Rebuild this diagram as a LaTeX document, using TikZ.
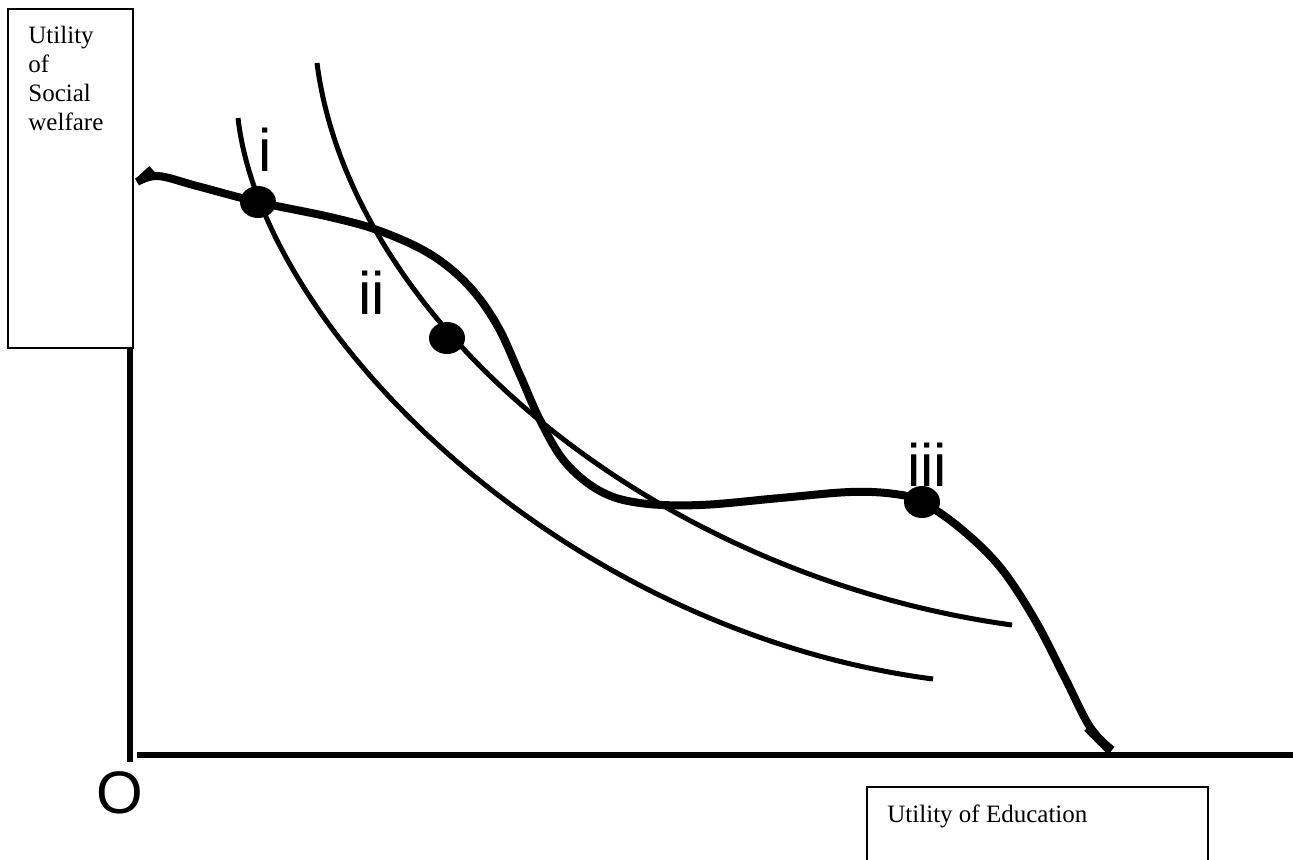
\documentclass[tikz,border=0pt]{standalone}
\usepackage{fontspec}
\setmainfont{Liberation Serif}
\newfontfamily\labelfont{Liberation Sans}
\usetikzlibrary{shapes.geometric}

\begin{document}
\begin{tikzpicture}[x=0.5pt,y=-0.5pt,
  axis/.style={line width=3.3pt},
  frontier/.style={line width=4pt,line join=round},
  indiff/.style={line width=2.5pt},
  point/.style={ellipse,fill=black,inner sep=0pt,minimum width=18pt,minimum height=16pt},
  ptlabel/.style={font=\labelfont\fontsize{30}{36}\selectfont,inner sep=0pt},
  boxtext/.style={font=\fontsize{12.5}{14.5}\selectfont,inner sep=0pt,align=left}]
\useasboundingbox (0,0) rectangle (1293,859);

\draw[line width=0.75pt] (8,9) rectangle (133,348);
\node[boxtext,anchor=north west] (ylabel) at (28,26) {Utility\\of\\Social\\welfare};
\draw[line width=0.75pt] (867,787) rectangle (1208,880);
\node[boxtext,anchor=base west] (xlabel) at (887,822) {Utility of Education};

\coordinate (ytop) at (130,348);
\coordinate (ybot) at (130,762);
\coordinate (xleft) at (137,755);
\coordinate (xright) at (1293,755);
\draw[axis] (ytop) -- (ybot);
\draw[axis] (xleft) -- (xright);
\node[ptlabel] (origin) at (120,793) {O};

\coordinate (ic1a) at (238,118);
\coordinate (ic1b) at (933,679);
\coordinate (ic2a) at (317,63);
\coordinate (ic2b) at (1012,625);
\draw[indiff] (ic1a) .. controls (262,330) and (560,630) .. (ic1b);
\draw[indiff] (ic2a) .. controls (350,320) and (650,575) .. (ic2b);

\draw[frontier] plot[smooth,tension=0.6] coordinates {(137,182) (158,176) (197,186) (258,202) (330,217) (380,231) (430,254) (468,285) (497,325) (520,375) (540,420) (565,462) (600,491) (640,503) (700,505) (780,498) (850,492) (895,494) (922,502) (960,528) (1000,567) (1035,620) (1065,678) (1090,727) (1112,750)};
\coordinate (hookA) at (139,181);
\coordinate (hookB) at (152,169);
\coordinate (hookC) at (1087,728);
\coordinate (hookD) at (1109,750);
\draw[frontier] (hookA) -- (hookB);
\draw[frontier] (hookC) -- (hookD);

\node[point] (pi) at (258,202) {};
\node[point] (pii) at (447,338) {};
\node[point] (piii) at (922,502) {};
\node[ptlabel] (li) at (265,150) {i};
\node[ptlabel] (lii) at (372,293) {ii};
\node[ptlabel] (liii) at (927,465) {iii};
\end{tikzpicture}
\end{document}
